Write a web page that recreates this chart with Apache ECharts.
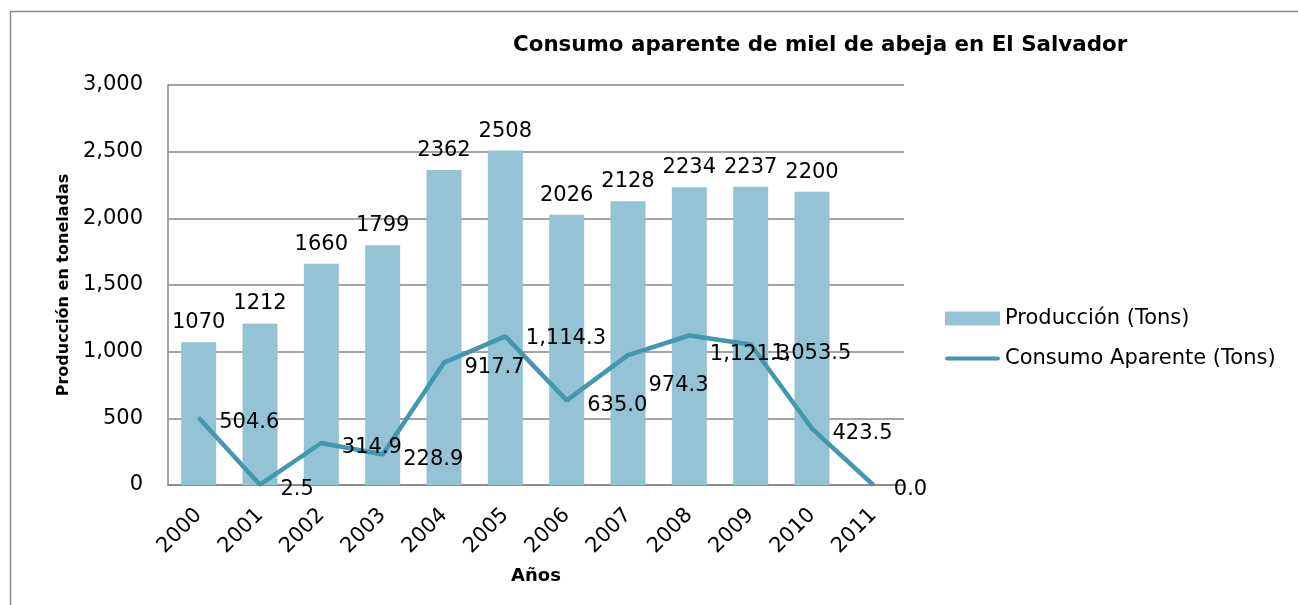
<!DOCTYPE html>
<html>
<head>
<meta charset="utf-8">
<script src="https://cdn.jsdelivr.net/npm/echarts@6/dist/echarts.min.js"></script>
<style>
  html, body { margin: 0; padding: 0; background: #fff; }
  #chart { width: 1298px; height: 605px; }
</style>
</head>
<body>
<div id="chart"></div>
<script>
const years = ['2000', '2001', '2002', '2003', '2004', '2005', '2006', '2007', '2008', '2009', '2010', '2011'];
const produccion = [1070, 1212, 1660, 1799, 2362, 2508, 2026, 2128, 2234, 2237, 2200, '-'];
const consumo = [504.6, 2.5, 314.9, 228.9, 917.7, 1114.3, 635.0, 974.3, 1121.3, 1053.5, 423.5, 0.0];
const yTicks = [0, 500, 1000, 1500, 2000, 2500, 3000];

const FONT = 'DejaVu Sans';
const LINE_COLOR = '#4397AE';
const BAR_COLOR = '#93C3D4';
const fmtComma = v => Number(v).toLocaleString('en-US');
const fmtDec = v => Number(v).toLocaleString('en-US', { minimumFractionDigits: 1, maximumFractionDigits: 1 });

// some labels in the original were dragged down a bit by hand
const labelDrop = { '2005': 2, '2007': 30, '2008': 19, '2009': 9 };

const chart = echarts.init(document.getElementById('chart'));
chart.setOption({
  animation: false,
  textStyle: { fontFamily: FONT },
  title: {
    text: 'Consumo aparente de miel de abeja en El Salvador',
    left: 508,
    top: 30,
    textStyle: { fontFamily: FONT, fontWeight: 'bold', fontSize: 21.4, color: '#000' }
  },
  graphic: [
    {
      type: 'rect',
      shape: { x: 10.5, y: 11.5, width: 1400, height: 700 },
      style: { fill: 'none', stroke: '#8c8c8c', lineWidth: 1.5 },
      silent: true
    }
  ],
  legend: {
    orient: 'vertical',
    left: 940,
    top: 303,
    itemWidth: 55,
    itemHeight: 14,
    itemGap: 19,
    textStyle: { fontFamily: FONT, fontSize: 21, color: '#000' },
    data: [
      { name: 'Producción (Tons)', icon: 'rect' },
      { name: 'Consumo Aparente (Tons)', icon: 'path://M2,5 L53,5 A2,2 0 0 1 53,9 L2,9 A2,2 0 0 1 2,5 Z' }
    ]
  },
  grid: { left: 168, right: 394, top: 85, bottom: 120 },
  xAxis: {
    type: 'category',
    data: years,
    name: 'Años',
    nameLocation: 'middle',
    nameGap: 82,
    nameTextStyle: { fontFamily: FONT, fontWeight: 'bold', fontSize: 18, color: '#000' },
    axisLine: { lineStyle: { color: '#868686', width: 1.5 } },
    axisTick: { show: false },
    axisLabel: { rotate: 45, fontSize: 21, color: '#000', margin: 27, interval: 0 }
  },
  yAxis: {
    type: 'value',
    min: yTicks[0],
    max: yTicks[yTicks.length - 1],
    interval: 500,
    name: 'Producción en toneladas',
    nameLocation: 'middle',
    nameGap: 96,
    nameTextStyle: { fontFamily: FONT, fontWeight: 'bold', fontSize: 16, color: '#000' },
    axisLine: { show: true, lineStyle: { color: '#868686', width: 1.5 } },
    axisTick: { show: false },
    splitLine: { lineStyle: { color: '#868686', width: 1.5 } },
    axisLabel: { fontSize: 21, color: '#000', margin: 25, formatter: v => fmtComma(v) }
  },
  series: [
    {
      name: 'Producción (Tons)',
      type: 'bar',
      data: produccion,
      barWidth: 35,
      itemStyle: { color: BAR_COLOR },
      label: {
        show: true,
        position: 'top',
        distance: 9,
        fontSize: 21,
        color: '#000',
        formatter: p => String(p.value)
      }
    },
    {
      name: 'Consumo Aparente (Tons)',
      type: 'line',
      data: consumo.map((v, i) => ({
        value: v,
        label: { offset: [0, labelDrop[years[i]] !== undefined ? labelDrop[years[i]] : 5] }
      })),
      symbol: 'circle',
      symbolSize: 1,
      z: 3,
      lineStyle: { color: LINE_COLOR, width: 4.5 },
      itemStyle: { color: LINE_COLOR },
      label: {
        show: true,
        position: 'right',
        distance: 20,
        fontSize: 21,
        color: '#000',
        formatter: p => fmtDec(p.value)
      }
    }
  ]
});
</script>
</body>
</html>
